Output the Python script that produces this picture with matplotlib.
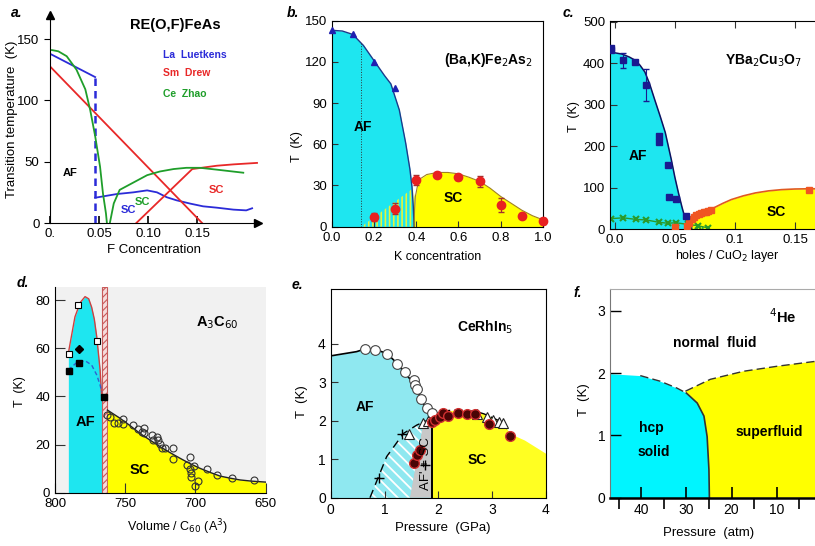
"""Six phase diagrams (pnictides, cuprate, fulleride, heavy fermion, 4He) in a 2x3 grid."""

import numpy as np
import matplotlib
matplotlib.use('Agg')
import matplotlib.pyplot as plt

plt.rcParams['font.family'] = ['Liberation Sans', 'DejaVu Sans']
plt.rcParams['axes.unicode_minus'] = False
plt.rcParams['hatch.linewidth'] = 1.2

W, H = 815, 546
CYAN   = '#1ee6f0'
YELLOW = '#ffff00'

# ---- a. RE(O,F)FeAs ----
A_BLUE_HI_X  = [0.0, 0.046]
A_BLUE_HI_T  = [138, 119]
A_BLUE_LO_X  = [0.046, 0.068, 0.085, 0.099, 0.109, 0.119, 0.129, 0.143, 0.156, 0.170, 0.187, 0.200, 0.206]
A_BLUE_LO_T  = [20.6, 23.6, 25, 26.6, 25, 21, 18.5, 15.8, 13.6, 12.5, 10.9, 10.3, 12]
A_RED_AF_X   = [0.0, 0.155]
A_RED_AF_T   = [127.7, 0]
A_RED_SC_X   = [0.088, 0.145, 0.170, 0.187, 0.211]
A_RED_SC_T   = [0, 44, 46.7, 47.8, 49]
A_GREEN_AF_X = [0.002, 0.0085, 0.017, 0.027, 0.036, 0.041, 0.046, 0.051, 0.054, 0.057, 0.058]
A_GREEN_AF_T = [141, 140, 136, 125, 109, 92, 71, 46, 24, 8, 0]
A_GREEN_SC_X = [0.061, 0.065, 0.071, 0.085, 0.099, 0.112, 0.126, 0.139, 0.153, 0.170, 0.197]
A_GREEN_SC_T = [0, 16, 27, 33, 39, 42, 44, 45, 45, 43.5, 41]

# ---- b. (Ba,K)Fe2As2 ----
B_AF_K   = [0.0, 0.05, 0.10, 0.15, 0.20, 0.25, 0.28, 0.32, 0.35, 0.37, 0.38, 0.386, 0.39]
B_AF_T   = [143, 142.5, 140, 132, 121, 110, 104, 85, 61, 42, 29, 15, 0]
B_SC_K   = [0.39, 0.392, 0.396, 0.405, 0.42, 0.45, 0.50, 0.55, 0.60, 0.65, 0.70, 0.75, 0.80, 0.85, 0.90, 0.95, 1.0]
B_SC_T   = [0, 12, 22, 29, 35, 38, 39.5, 39.5, 38.5, 36, 33, 28, 22, 17, 12, 8, 5]
B_COEX_K = [0.14, 0.385, 0.40]
B_COEX_T = [0, 28, 16]
B_TRI_K  = [0.0, 0.1, 0.2, 0.3]
B_TRI_T  = [143, 140, 120, 101]
B_PTS_K  = [0.2, 0.3, 0.4, 0.5, 0.6, 0.7, 0.8, 0.9, 1.0]
B_PTS_T  = [7, 13, 34, 38, 36, 33, 16, 8, 4]
B_PTS_E  = [3, 4, 4, 2, 2, 4, 5, 2, 2]
B_DOT_K  = 0.14

# ---- c. YBa2Cu3O7 ----
C_AF_X  = [-0.005, 0.0, 0.006, 0.012, 0.017, 0.021, 0.025, 0.029, 0.033, 0.038, 0.042,
           0.047, 0.050, 0.053, 0.056, 0.058, 0.061, 0.064]
C_AF_T  = [425, 425, 422, 415, 407, 395, 379, 350, 314, 270, 233, 168, 125, 87, 52, 31, 12, 0]
C_NEEL_X = [-0.0033, -0.0033, 0.007, 0.0167, 0.0256, 0.037, 0.037, 0.044, 0.045, 0.051, 0.059]
C_NEEL_T = [437, 431, 407, 403, 348, 225, 209, 154, 78, 73, 31]
C_NEEL_E = [0, 0, 18, 0, 38, 0, 0, 0, 0, 0, 0]
C_G_X   = [-0.003, 0.007, 0.018, 0.026, 0.037, 0.044, 0.051, 0.061, 0.069, 0.078]
C_G_T   = [25, 27, 23, 22, 16, 14, 15, 11, 8, 2.4]
C_SC_X  = [0.06, 0.062, 0.064, 0.069, 0.075, 0.081, 0.09, 0.097, 0.107, 0.117, 0.128, 0.139, 0.15, 0.161, 0.175]
C_SC_T  = [0, 12, 23, 36, 43, 49, 62, 71, 80, 87, 92, 95, 96.5, 97, 97]
C_TC_X  = [0.05, 0.06, 0.062, 0.064, 0.066, 0.068, 0.070, 0.072, 0.074, 0.076, 0.078, 0.080, 0.162]
C_TC_T  = [4, 8, 15, 23, 28, 33, 36, 38, 40, 42, 44, 46, 94]

# ---- d. A3C60 ----
D_AF_V   = [790.5, 785.8, 782, 778.6, 776, 773.9, 772, 770.3, 767.9, 766.8]
D_AF_T   = [57.9, 73, 79, 81.4, 80.5, 77, 72, 64.8, 51, 40]
D_DASH_V = [790.5, 784.6, 778.6, 773.9, 770.3, 767.9, 766.8]
D_DASH_T = [51, 54, 54.8, 53, 48.9, 44.7, 42]
D_BAND_V = [766.8, 762.7]
D_SC_V   = [762.7, 753.7, 746, 739.5, 732, 725.2, 718, 711, 704, 696.7, 689, 682.5, 675, 668.3, 660, 650]
D_SC_T   = [34.3, 30.9, 27.6, 24.6, 21.7, 19.1, 16.6, 14.3, 12.1, 10.1, 8.3, 6.9, 6.0, 5.3, 4.8, 4.4]
D_OSQ_V  = [789.8, 783.4, 770.3]
D_OSQ_T  = [57.6, 77.9, 63]
D_FSQ_V  = [789.8, 782.9, 765.1]
D_FSQ_T  = [50.7, 53.7, 39.9]
D_DIA_V  = [782.9]
D_DIA_T  = [59.7]
D_CIRC_V = [762.7, 760.8, 758, 755, 751.3, 751.3, 744.2, 740.7, 738.3, 736.6, 736.6, 731.2, 730,
            727.6, 726.4, 725.2, 724, 721.7, 716.2, 716.2, 705.8, 703.9, 703.9, 703.4, 703.2, 701,
            700.1, 698.4, 692, 684.4, 673.7, 658]
D_CIRC_T = [32.2, 31.6, 28.9, 28.8, 30.4, 28.5, 28.1, 26.3, 25.3, 26.7, 24.9, 23.9, 21.9,
            23.3, 21.9, 20.2, 18.4, 18.4, 18.4, 13.8, 11.3, 14.8, 9.8, 8.0, 6.6, 11.0,
            2.8, 4.8, 9.7, 7.3, 6.1, 5.3]

# ---- e. CeRhIn5 ----
E_AF_P   = [0, 0.48, 0.64, 0.85, 1.04, 1.23, 1.38, 1.54, 1.66, 1.75, 1.85, 1.88]
E_AF_T   = [3.69, 3.8, 3.87, 3.84, 3.76, 3.5, 3.24, 2.98, 2.63, 2.37, 2.15, 2.07]
E_DASH_P = [0.73, 1.04, 1.35, 1.6, 1.81]
E_DASH_T = [0, 1.07, 1.67, 1.89, 2.02]
E_GRAY_P = [1.47, 1.88, 1.88, 1.72]
E_GRAY_T = [0, 0, 2.05, 1.95]
E_SC_P   = [1.88, 1.95, 2.03, 2.2, 2.34, 2.5, 2.71, 2.85, 2.96, 3.1, 3.21, 3.33, 3.6, 4.0]
E_SC_T   = [2.07, 2.18, 2.24, 2.27, 2.28, 2.27, 2.24, 2.18, 2.11, 2.02, 1.93, 1.67, 1.5, 1.15]
E_CIRC_P = [0.64, 0.82, 1.04, 1.23, 1.38, 1.54, 1.57, 1.6, 1.67, 1.78, 1.88]
E_CIRC_T = [3.87, 3.84, 3.74, 3.47, 3.28, 3.06, 2.93, 2.82, 2.56, 2.33, 2.2]
E_TRI_P  = [1.46, 1.72, 1.8, 2.71, 2.9, 3.02, 3.12, 3.21]
E_TRI_T  = [1.67, 1.95, 2.0, 2.18, 2.11, 2.02, 1.98, 1.95]
E_PLUS_P = [1.32, 0.89, 1.75]
E_PLUS_T = [1.67, 0.5, 0.85]
E_RED_P  = [1.55, 1.6, 1.66, 1.88, 1.94, 2.03, 2.09, 2.17, 2.37, 2.53, 2.68, 2.95, 3.34]
E_RED_T  = [0.89, 1.11, 1.24, 1.98, 2.02, 2.11, 2.21, 2.13, 2.21, 2.18, 2.18, 1.93, 1.61]

# ---- f. 4He ----
F_SOLID_P  = [46.9, 40.2, 35.8, 32.1, 30, 27.6, 26.1, 25.4, 25.0, 24.9]
F_SOLID_T  = [1.99, 1.96, 1.87, 1.76, 1.68, 1.52, 1.31, 0.98, 0.45, 0]
F_LAMBDA_P = [30.2, 24.7, 17.3, 9.9, 1.3]
F_LAMBDA_T = [1.71, 1.9, 2.03, 2.11, 2.19]


def px_axes(fig, left, top, right, bottom):
    """axes placed by pixel edges (origin top-left)."""
    return fig.add_axes([left / W, 1 - bottom / H, (right - left) / W, (bottom - top) / H])


def style(ax, ticksize=9):
    ax.tick_params(direction='in', labelsize=ticksize, length=4, color='#333')


def panel_a(fig):
    ax = px_axes(fig, 50, 15, 258, 223)
    ax.set_xlim(0, 0.212); ax.set_ylim(0, 169.6)
    ax.spines[['top', 'right']].set_visible(False)
    ax.plot(1, 0, '>k', ms=6, transform=ax.transAxes, clip_on=False)
    ax.plot(0, 1, '^k', ms=6, transform=ax.transAxes, clip_on=False)
    blue, red, green = '#2b2bd8', '#e82828', '#1f9e2a'
    ax.plot(A_BLUE_HI_X, A_BLUE_HI_T, color=blue, lw=1.3)
    ax.plot([A_BLUE_HI_X[-1]] * 2, [0, A_BLUE_HI_T[-1]], color=blue, lw=1.8, ls=(0, (3, 2)))
    ax.plot(A_BLUE_LO_X, A_BLUE_LO_T, color=blue, lw=1.3)
    ax.plot(A_RED_AF_X, A_RED_AF_T, color=red, lw=1.3)
    ax.plot(A_RED_SC_X, A_RED_SC_T, color=red, lw=1.3)
    ax.plot(A_GREEN_AF_X, A_GREEN_AF_T, color=green, lw=1.3)
    ax.plot(A_GREEN_SC_X, A_GREEN_SC_T, color=green, lw=1.3)
    ax.set_xticks([0, 0.05, 0.10, 0.15], ['0.', '0.05', '0.10', '0.15'])
    ax.set_yticks([0, 50, 100, 150])
    ax.tick_params(axis='x', direction='in', length=5, labelsize=9.5, width=1.2)
    ax.tick_params(axis='y', direction='out', length=4, labelsize=9.5)
    ax.set_xlabel('F Concentration', fontsize=9.5)
    ax.set_ylabel('Transition temperature  (K)', fontsize=9.5)
    ax.xaxis.set_label_coords(0.5, -0.10)
    ax.yaxis.set_label_coords(-0.155, 0.5)
    ax.text(0.1276, 161.4, 'RE(O,F)FeAs', ha='center', va='center', fontsize=10.5, weight='bold')
    ax.text(0.1153, 137, 'La  Luetkens', color=blue, fontsize=7.5, weight='bold', va='center')
    ax.text(0.1153, 122.3, 'Sm  Drew', color=red, fontsize=7.5, weight='bold', va='center')
    ax.text(0.1153, 105.2, 'Ce  Zhao', color=green, fontsize=7.5, weight='bold', va='center')
    ax.text(0.0204, 40.8, 'AF', ha='center', va='center', fontsize=8, weight='bold')
    ax.text(0.0796, 10.6, 'SC', color=blue, ha='center', va='center', fontsize=8, weight='bold')
    ax.text(0.0939, 17.1, 'SC', color=green, ha='center', va='center', fontsize=8, weight='bold')
    ax.text(0.170, 26.9, 'SC', color=red, ha='center', va='center', fontsize=8, weight='bold')


def panel_b(fig):
    ax = px_axes(fig, 331.7, 20.7, 543, 226.7)
    ax.set_xlim(0, 1); ax.set_ylim(0, 150)
    ax.fill_between(B_AF_K, 0, B_AF_T, color=CYAN, lw=0)
    ax.fill_between(B_SC_K, 0, B_SC_T, color=YELLOW, lw=0)
    ax.fill_between(B_COEX_K, 0, B_COEX_T, facecolor='none', edgecolor='#e6f53a',
                    hatch='||||', lw=0)
    ax.plot(B_AF_K, B_AF_T, color='#1d3b8a', lw=1)
    ax.plot(B_SC_K, B_SC_T, color='#a08020', lw=0.8)
    ax.plot([B_DOT_K] * 2, [0, np.interp(B_DOT_K, B_AF_K, B_AF_T)], color='#333', lw=0.7, ls=':')
    ax.plot(B_TRI_K, B_TRI_T, '^', color='#2020b0', ms=5, clip_on=False, zorder=5)
    ax.errorbar(B_PTS_K, B_PTS_T, yerr=B_PTS_E, fmt='o', color='#e82020', ms=6,
                ecolor='#a03030', elinewidth=0.8, capsize=2, clip_on=False, zorder=5)
    ax.set_xticks(np.arange(0, 1.01, 0.2))
    ax.set_yticks(np.arange(0, 151, 30))
    style(ax, 9.5)
    ax.set_xlabel('K concentration', fontsize=9)
    ax.set_ylabel('T  (K)', fontsize=9)
    ax.xaxis.set_label_coords(0.5, -0.118)
    ax.yaxis.set_label_coords(-0.135, 0.39)
    ax.text(0.74, 121.4, '(Ba,K)Fe$_2$As$_2$', ha='center', va='center', fontsize=10, weight='bold')
    ax.text(0.148, 72.6, 'AF', ha='center', va='center', fontsize=10, weight='bold')
    ax.text(0.574, 20.9, 'SC', ha='center', va='center', fontsize=10, weight='bold')


def panel_c(fig):
    ax = px_axes(fig, 610, 20.5, 825, 229)
    ax.set_xlim(-0.004, 0.175); ax.set_ylim(0, 503)
    ax.spines['right'].set_visible(False)
    ax.fill_between(C_AF_X, 0, C_AF_T, color=CYAN, lw=0)
    ax.fill_between(C_SC_X, 0, C_SC_T, color=YELLOW, lw=0)
    ax.fill_between(C_G_X[-3:], 0, C_G_T[-3:], facecolor='none', edgecolor='#2db04a',
                    hatch='|||', lw=0)
    ax.plot(C_AF_X, C_AF_T, color='#101060', lw=1.1)
    ax.plot(C_SC_X, C_SC_T, color='#e05a20', lw=1.2)
    ax.plot(C_G_X, C_G_T, color='#2a9a2a', lw=1, marker='x', ms=4, mew=1.5)
    ax.errorbar(C_NEEL_X, C_NEEL_T, yerr=C_NEEL_E, fmt='s', color='#1a1a90', ms=4,
                elinewidth=0.8, capsize=2, zorder=5)
    ax.plot(C_TC_X, C_TC_T, 's', color='#f05522', ms=4.5, zorder=5)
    ax.set_xticks([0, 0.05, 0.1, 0.15], ['0.0', '0.05', '0.1', '0.15'])
    ax.set_yticks(np.arange(0, 501, 100))
    style(ax, 9.5)
    ax.tick_params(top=True, length=5)
    ax.set_xlabel('holes / CuO$_2$ layer', fontsize=9)
    ax.set_ylabel('T  (K)', fontsize=9)
    ax.xaxis.set_label_coords(0.544, -0.092)
    ax.yaxis.set_label_coords(-0.14, 0.54)
    ax.text(0.124, 405, 'YBa$_2$Cu$_3$O$_7$', ha='center', va='center', fontsize=10, weight='bold')
    ax.text(0.019, 175, 'AF', ha='center', va='center', fontsize=10, weight='bold')
    ax.text(0.134, 41, 'SC', ha='center', va='center', fontsize=10, weight='bold')


def panel_d(fig):
    ax = px_axes(fig, 55, 287, 265.7, 492.7)
    ax.set_xlim(800, 650); ax.set_ylim(0, 85.4)
    ax.set_facecolor('#f1f1f1')
    for s in ['top', 'right']:
        ax.spines[s].set_visible(False)
    ax.fill_between(D_AF_V, 0, D_AF_T, color=CYAN, lw=0)
    plt.rcParams['hatch.linewidth'] = 0.8
    ax.axvspan(D_BAND_V[1], D_BAND_V[0], facecolor='#f6dcdc', edgecolor='#c85a5a',
               hatch='/////', lw=0.8)
    plt.rcParams['hatch.linewidth'] = 1.2
    ax.fill_between(D_SC_V, 0, D_SC_T, color=YELLOW, lw=0)
    ax.plot(D_AF_V, D_AF_T, color='#d04040', lw=1)
    ax.plot(D_DASH_V, D_DASH_T, color='#3060d0', lw=1, ls=(0, (3, 2)))
    ax.plot(D_SC_V, D_SC_T, color='#222', lw=1)
    ax.plot(D_CIRC_V, D_CIRC_T, 'o', mfc='none', mec='#333', ms=5, mew=0.8)
    ax.plot(D_OSQ_V, D_OSQ_T, 's', mfc='white', mec='black', ms=4, mew=0.8)
    ax.plot(D_FSQ_V, D_FSQ_T, 's', color='black', ms=4.5)
    ax.plot(D_DIA_V, D_DIA_T, 'D', color='black', ms=4.5)
    ax.set_xticks([800, 750, 700, 650])
    ax.set_yticks(np.arange(0, 81, 20))
    style(ax, 9.5)
    ax.tick_params(length=7)
    ax.set_xlabel('Volume / C$_{60}$ (A$^3$)', fontsize=9)
    ax.set_ylabel('T  (K)', fontsize=9)
    ax.xaxis.set_label_coords(0.58, -0.12)
    ax.yaxis.set_label_coords(-0.14, 0.49)
    ax.text(684.7, 70.4, 'A$_3$C$_{60}$', ha='center', va='center', fontsize=10.5, weight='bold')
    ax.text(778.6, 29.3, 'AF', ha='center', va='center', fontsize=10.5, weight='bold')
    ax.text(739.5, 9.4, 'SC', ha='center', va='center', fontsize=10.5, weight='bold')


def panel_e(fig):
    ax = px_axes(fig, 330.7, 289, 546, 497.7)
    ax.set_xlim(0, 4); ax.set_ylim(0, 5.43)
    ecyan, eyellow = '#8fe8f0', '#ffff22'
    ax.fill_between(E_AF_P, 0, E_AF_T, color=ecyan, lw=0)
    ax.fill_between(E_SC_P, 0, E_SC_T, color=eyellow, lw=0)
    ax.fill(E_GRAY_P, E_GRAY_T, color='#c8c8c8', lw=0)
    # coexistence wedge: cyan with white diagonal stripes
    hx = E_DASH_P[:4] + [E_GRAY_P[3], E_GRAY_P[0]]
    hy = E_DASH_T[:4] + [E_GRAY_T[3], E_GRAY_T[0]]
    plt.rcParams['hatch.linewidth'] = 1.3
    ax.fill(hx, hy, facecolor=ecyan, edgecolor='white', hatch='\\\\\\', lw=0)
    plt.rcParams['hatch.linewidth'] = 1.2
    ax.plot(E_AF_P, E_AF_T, color='black', lw=1.2)
    ax.plot(E_SC_P[:12], E_SC_T[:12], color='black', lw=1, ls=(0, (6, 3)))
    ax.plot(E_DASH_P, E_DASH_T, color='black', lw=1, ls=(0, (6, 4)))
    ax.plot([E_GRAY_P[1]] * 2, [0, E_GRAY_T[2]], color='black', lw=1.4)
    ax.plot(E_CIRC_P, E_CIRC_T, 'o', mfc='white', mec='#444', ms=7, mew=0.8)
    ax.plot(E_TRI_P, E_TRI_T, '^', mfc='white', mec='#222', ms=7, mew=0.8)
    ax.plot(E_PLUS_P, E_PLUS_T, '+', color='black', ms=7, mew=1)
    ax.plot(E_RED_P, E_RED_T, 'o', mfc='#4a0505', mec='#d03030', ms=7, mew=1)
    ax.set_xticks([0, 1, 2, 3, 4])
    ax.set_yticks([0, 1, 2, 3, 4])
    style(ax, 10)
    ax.tick_params(length=5)
    ax.set_xlabel('Pressure  (GPa)', fontsize=9.5)
    ax.set_ylabel('T  (K)', fontsize=9.5)
    ax.xaxis.set_label_coords(0.52, -0.116)
    ax.yaxis.set_label_coords(-0.105, 0.46)
    ax.text(2.87, 4.44, 'CeRhIn$_5$', ha='center', va='center', fontsize=10, weight='bold')
    ax.text(0.64, 2.36, 'AF', ha='center', va='center', fontsize=10, weight='bold')
    ax.text(2.72, 0.98, 'SC', ha='center', va='center', fontsize=10, weight='bold')
    ax.text(1.77, 0.9, "AF' + SC", rotation=90, ha='center', va='center', fontsize=9.5)


def panel_f(fig):
    ax = px_axes(fig, 610, 289, 816, 497.7)
    ax.set_xlim(46.9, F_LAMBDA_P[-1]); ax.set_ylim(0, 3.35)
    ax.spines['right'].set_visible(False)
    ax.spines['top'].set_color('#aaaaaa')
    ax.spines['left'].set_color('#777777')
    ax.spines['bottom'].set_linewidth(1.8)
    ax.fill_between(F_SOLID_P, 0, F_SOLID_T, color='#00f5ff', lw=0)
    # superfluid: under the lambda line, right of the solid boundary
    sol_p = np.array(F_SOLID_P); sol_t = np.array(F_SOLID_T)
    keep = sol_p <= 30.2
    px = F_LAMBDA_P + [F_LAMBDA_P[-1]] + list(sol_p[keep][::-1])
    py = F_LAMBDA_T + [0] + list(sol_t[keep][::-1])
    ax.fill(px, py, color=YELLOW, lw=0)
    ax.plot(sol_p[keep], sol_t[keep], color='#333', lw=1.2)
    ax.plot(F_SOLID_P[1:5], F_SOLID_T[1:5], color='#333', lw=1, ls=(0, (6, 3)))
    ax.plot(F_LAMBDA_P, F_LAMBDA_T, color='#333', lw=1, ls=(0, (6, 3)))
    ax.set_xticks([40, 30, 20, 10])
    ax.set_xticks([45, 35, 25, 15, 5], minor=True)
    ax.set_yticks([0, 1, 2, 3])
    style(ax, 10)
    ax.tick_params(which='both', length=8, width=1.2, color='black')
    ax.tick_params(axis='y', length=8, width=1)
    ax.set_xlabel('Pressure  (atm)', fontsize=9.5)
    ax.set_ylabel('T  (K)', fontsize=9.5)
    ax.xaxis.set_label_coords(0.478, -0.14)
    ax.yaxis.set_label_coords(-0.098, 0.47)
    ax.text(8.6, 2.91, '$^4$He', ha='center', va='center', fontsize=10.5, weight='bold')
    ax.text(23.7, 2.48, 'normal  fluid', ha='center', va='center', fontsize=10, weight='bold')
    ax.text(37.7, 1.12, 'hcp', ha='center', va='center', fontsize=10, weight='bold')
    ax.text(37.3, 0.74, 'solid', ha='center', va='center', fontsize=10, weight='bold')
    ax.text(11.7, 1.06, 'superfluid', ha='center', va='center', fontsize=10, weight='bold')


def main():
    fig = plt.figure(figsize=(W / 100, H / 100), dpi=100)
    panel_a(fig); panel_b(fig); panel_c(fig)
    panel_d(fig); panel_e(fig); panel_f(fig)
    for lab, x, y in [('a.', 17, 13), ('b.', 293, 13), ('c.', 568, 13),
                      ('d.', 23, 283), ('e.', 297, 285), ('f.', 578, 293)]:
        fig.text(x / W, 1 - y / H, lab, ha='center', va='center', fontsize=10,
                 weight='bold', style='italic')
    fig.savefig('out.png', dpi=100)
    plt.close(fig)


if __name__ == '__main__':
    main()
